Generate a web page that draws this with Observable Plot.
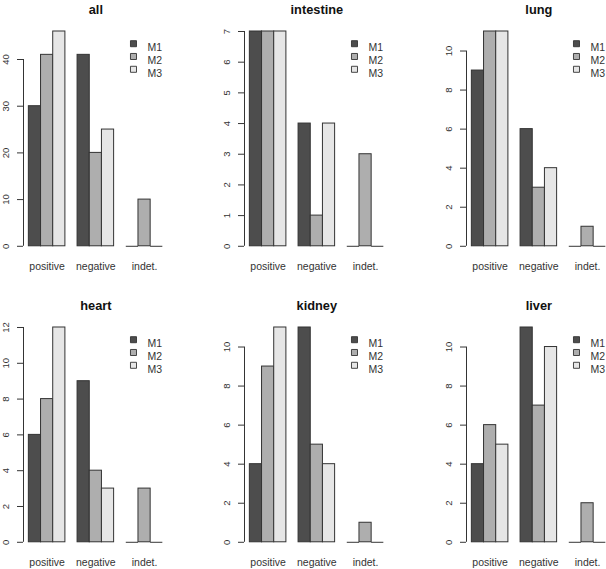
<!DOCTYPE html>
<html>
<head>
<meta charset="utf-8">
<script src="https://cdn.jsdelivr.net/npm/d3@7"></script>
<script src="https://cdn.jsdelivr.net/npm/@observablehq/plot@0.6"></script>
<style>
  html, body { margin: 0; padding: 0; background: #fff; }
  #chart { position: relative; width: 606px; height: 569px; overflow: hidden; background: #fff; }
  #chart svg { position: absolute; max-width: none; }
</style>
</head>
<body>
<div id="chart"></div>
<script>
// ---- data ----
const groups = ["positive", "negative", "indet."];
const methods = ["M1", "M2", "M3"];
const fills = ["#4d4d4d", "#aeaeae", "#e6e6e6"];
const panelNames = ["all", "intestine", "lung", "heart", "kidney", "liver"];

// values per method (rows M1, M2, M3), columns = groups
const allValues       = [[30, 41, 0], [41, 20, 10], [46, 25, 0]];
const intestineValues = [[7, 4, 0], [7, 1, 3], [7, 4, 0]];
const lungValues      = [[9, 6, 0], [11, 3, 1], [11, 4, 0]];
const heartValues     = [[6, 9, 0], [8, 4, 3], [12, 3, 0]];
const kidneyValues    = [[4, 11, 0], [9, 5, 1], [11, 4, 0]];
const liverValues     = [[4, 11, 0], [6, 7, 2], [5, 10, 0]];

const allTicks       = [0, 10, 20, 30, 40];
const intestineTicks = [0, 1, 2, 3, 4, 5, 6, 7];
const lungTicks      = [0, 2, 4, 6, 8, 10];
const heartTicks     = [0, 2, 4, 6, 8, 10, 12];
const kidneyTicks    = [0, 2, 4, 6, 8, 10];
const liverTicks     = [0, 2, 4, 6, 8, 10];

const panelValues = [allValues, intestineValues, lungValues, heartValues, kidneyValues, liverValues];
const panelTicks = [allTicks, intestineTicks, lungTicks, heartTicks, kidneyTicks, liverTicks];

// ---- layout (pixels) ----
const colAxisX = [22.5, 243.8, 466.2];
const rowTopY = [30.7, 326.7];
const rowZeroY = [245.5, 541.5];
const unitPx = 12.18;
const mL = 30, mR = 50, mT = 32, mB = 30;

const ink = "#333";
const font = "'Liberation Sans', Arial, Helvetica, sans-serif";

const container = document.getElementById("chart");

panelNames.forEach((name, p) => {
  const col = p % 3, row = Math.floor(p / 3);
  const vals = panelValues[p];
  const ticks = panelTicks[p];
  const bars = [];
  methods.forEach((m, i) => {
    groups.forEach((g, j) => {
      const x1 = 1 + 4 * j + i;
      bars.push({method: m, group: g, x1, x2: x1 + 1, value: vals[i][j]});
    });
  });
  const xmin = 1, xmax = 4 * groups.length;
  const pad = 0.04 * (xmax - xmin);
  const xlo = xmin - pad, xhi = xmax + pad;
  const ymax = d3.max(bars, d => d.value);
  const plotW = (xhi - xlo) * unitPx;
  const plotH = rowZeroY[row] - rowTopY[row];
  const centers = groups.map((g, j) => 1 + 4 * j + 1.5);

  const legendMarks = methods.flatMap((m, i) => [
    Plot.dot([m], {frameAnchor: "top-left", dx: 110, dy: 12.2 + 12.8 * i, symbol: "square", r: 3.4, fill: d => d, stroke: ink, strokeWidth: 0.9}),
    Plot.text([m], {frameAnchor: "top-left", dx: 124, dy: 12.2 + 12.8 * i, textAnchor: "start", fill: ink, fontSize: 10.5})
  ]);

  const svg = Plot.plot({
    width: mL + plotW + mR,
    height: mT + plotH + mB,
    marginLeft: mL, marginRight: mR, marginTop: mT, marginBottom: mB,
    style: {fontFamily: font, background: "transparent", overflow: "visible", color: ink},
    x: {domain: [xlo, xhi], axis: null},
    y: {domain: [0, ymax], axis: null},
    color: {domain: methods, range: fills},
    marks: [
      Plot.rectX(bars.filter(d => d.value > 0), {x1: "x1", x2: "x2", y1: 0, y2: "value", fill: "method", stroke: ink, strokeWidth: 1}),
      Plot.ruleY(bars.filter(d => d.value === 0), {y: 0, x1: "x1", x2: "x2", stroke: ink, strokeWidth: 1}),
      Plot.ruleX([xlo], {y1: ticks[0], y2: ticks[ticks.length - 1], stroke: ink, strokeWidth: 1}),
      Plot.axisY(ticks, {anchor: "left", label: null, tickSize: 6, tickRotate: -90, tickPadding: 8.5, fontSize: 9.5, stroke: ink, fill: ink}),
      Plot.axisX(centers, {anchor: "bottom", label: null, tickSize: 0, tickPadding: 16, fontSize: 10.5, fill: ink, tickFormat: (d, i) => groups[i]}),
      Plot.text([name], {frameAnchor: "top", dy: -26.5, fontWeight: "bold", fontSize: 12.8, fill: "#111"}),
      ...legendMarks
    ]
  });
  svg.style.left = (colAxisX[col] - mL) + "px";
  svg.style.top = (rowTopY[row] - mT) + "px";
  container.appendChild(svg);
});
</script>
</body>
</html>
